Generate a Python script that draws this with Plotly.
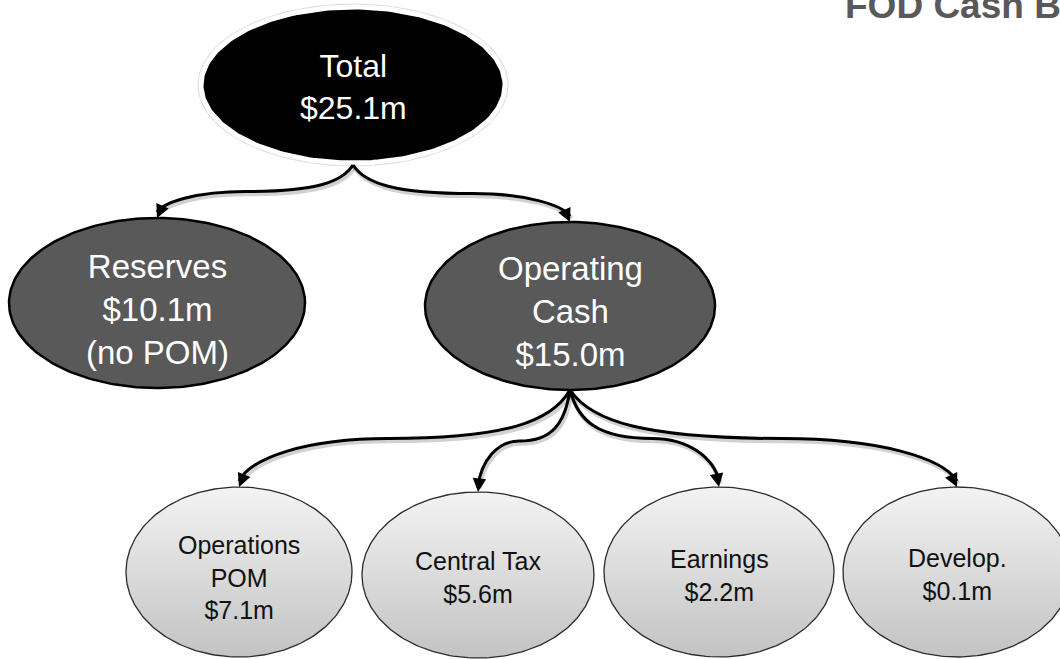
import numpy as np
import plotly.graph_objects as go

# ---------------- data ----------------
node_names = ["Total", "Reserves", "Operating<br>Cash", "Operations<br>POM",
              "Central Tax", "Earnings", "Develop."]
node_values = [25.1, 10.1, 15.0, 7.1, 5.6, 2.2, 0.1]  # $ millions
node_notes = ["", "(no POM)", "", "", "", "", ""]
node_parent = [None, 0, 0, 2, 2, 2, 2]
title_text = "FOD Cash Balance"

# ---------------- layout / style ----------------
W, H = 1060, 659
node_level = [0, 1, 1, 2, 2, 2, 2]
cx = [353, 157, 570, 239, 478, 719, 957]
cy = [85, 303, 306, 572, 575, 572, 572]
rx = [152, 148, 145, 113, 116, 115, 114]
ry = [78, 85, 84, 85, 83, 85, 85]
text_dy = [2, 6, 5, 5, 2, 3, 2]

FONT = "Arial, 'Liberation Sans', sans-serif"
level_style = {
    0: dict(fill="#000000", line="#ffffff", lw=5, tcolor="#ffffff", tsize=32),
    1: dict(fill="#595959", line="#000000", lw=2.5, tcolor="#ffffff", tsize=33),
    2: dict(fill=None, line="#2b2b2b", lw=1.3, tcolor="#111111", tsize=25),
}
bend_fx, bend_fy = 0.55, 0.5

fig = go.Figure()
t = np.linspace(0, 2 * np.pi, 240)


def ell(i, grow=0.0):
    return (cx[i] + (rx[i] + grow) * np.cos(t), cy[i] + (ry[i] + grow) * np.sin(t))


for i in range(len(node_names)):
    st = level_style[node_level[i]]
    if node_level[i] == 0:
        hx, hy = ell(i, 3.5)
        fig.add_trace(go.Scatter(x=hx, y=hy, mode="lines", fill="toself",
                                 fillcolor="#dedede", line=dict(width=0),
                                 hoverinfo="skip", showlegend=False))
    ex, ey = ell(i)
    kw = dict(x=ex, y=ey, mode="lines", fill="toself",
              line=dict(color=st["line"], width=st["lw"]),
              hoverinfo="skip", showlegend=False)
    if st["fill"] is None:
        kw["fillgradient"] = dict(type="vertical",
                                  colorscale=[[0, "#f3f3f3"], [1, "#c3c3c3"]],
                                  start=cy[i] - ry[i], stop=cy[i] + ry[i])
    else:
        kw["fillcolor"] = st["fill"]
    fig.add_trace(go.Scatter(**kw))

    label = f"{node_names[i]}<br>${node_values[i]:.1f}m"
    if node_notes[i]:
        label += "<br>" + node_notes[i]
    fig.add_annotation(x=cx[i], y=cy[i] + text_dy[i], text=label, showarrow=False,
                       xref="x", yref="y", xanchor="center", yanchor="middle",
                       font=dict(family=FONT, size=st["tsize"], color=st["tcolor"]))

# connectors
for c, p in enumerate(node_parent):
    if p is None:
        continue
    sx, sy = cx[p], cy[p] + ry[p] + (2 if node_level[p] == 0 else 0)
    tx, ty = cx[c], cy[c] - ry[c]
    mx, my = sx + bend_fx * (tx - sx), sy + bend_fy * (ty - sy)
    c1 = (sx + 0.1 * (mx - sx), sy + 0.65 * (my - sy))
    c2 = (sx + 0.35 * (mx - sx), my)
    c3 = (mx + 0.55 * (tx - mx), my)
    c4 = (tx + 0.08 * (mx - tx), my + 0.4 * (ty - my))
    ex_, ey_ = tx, ty - 6

    def path(dx=0.0, dy=0.0):
        return (f"M {sx+dx},{sy+dy} C {c1[0]+dx},{c1[1]+dy} {c2[0]+dx},{c2[1]+dy} {mx+dx},{my+dy} "
                f"C {c3[0]+dx},{c3[1]+dy} {c4[0]+dx},{c4[1]+dy} {ex_+dx},{ey_+dy}")

    fig.add_shape(type="path", path=path(1.5, 2.5), xref="x", yref="y",
                  line=dict(color="rgba(0,0,0,0.18)", width=4.5), layer="above")
    fig.add_shape(type="path", path=path(), xref="x", yref="y",
                  line=dict(color="#000000", width=3), layer="above")
    # arrow head
    dx, dy = c4[0] - tx, c4[1] - ty
    n = np.hypot(dx, dy)
    L = 12
    fig.add_annotation(x=tx, y=ty, xref="x", yref="y", text="", showarrow=True,
                       ax=dx / n * L, ay=dy / n * L, arrowhead=2, arrowsize=0.9,
                       arrowwidth=3, arrowcolor="#000000")

fig.add_annotation(x=843, y=28, xref="x", yref="y", text=f"<b>{title_text}</b>",
                   showarrow=False, xanchor="left", yanchor="bottom",
                   font=dict(family=FONT, size=37, color="#595959"))

fig.update_layout(
    width=W, height=H, margin=dict(l=0, r=0, t=0, b=0),
    paper_bgcolor="white", plot_bgcolor="white", showlegend=False,
    xaxis=dict(range=[0, W], visible=False, fixedrange=True),
    yaxis=dict(range=[H, 0], visible=False, fixedrange=True),
)
fig.write_html("out.html", config={"displayModeBar": False},
               post_script="document.body.style.margin='0';document.body.style.overflow='hidden';")
